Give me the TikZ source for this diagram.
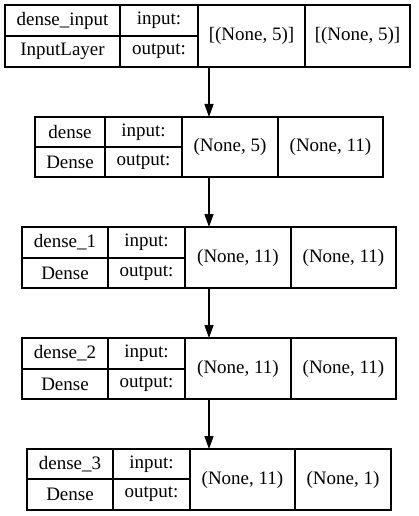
\documentclass[tikz,border=0pt]{standalone}
\usepackage{fontspec}
\setmainfont{Liberation Serif}
\usetikzlibrary{arrows.meta}
\tikzset{
  cellbox/.style={draw=black, line width=1.3pt, inner sep=0pt, outer sep=0pt, font=\fontsize{19}{22}\selectfont, text=black},
  layerbox/.style={draw=black, line width=1.3pt, inner sep=0pt, outer sep=0pt},
  arr/.style={line width=1.3pt, -{Triangle[length=13pt,width=9pt]}}
}
% \kcell{name}{x0}{y0}{x1}{y1}{text}
\newcommand\kcell[6]{%
  \node[cellbox, minimum width={(#4-#2)*1pt}, minimum height={(#5-#3)*1pt}] (#1) at ({(#2+#4)/2},{(#3+#5)/2}) {#6};}
% \kbox{name}{x0}{y0}{x1}{y1}
\newcommand\kbox[5]{%
  \node[layerbox, minimum width={(#4-#2)*1pt}, minimum height={(#5-#3)*1pt}] (#1) at ({(#2+#4)/2},{(#3+#5)/2}) {};}
\begin{document}
\begin{tikzpicture}[x=1pt,y=-1pt]
\useasboundingbox[fill=white] (0,0) rectangle (419,516);
% layer 1
\kbox{L1}{5}{5}{410}{67}
\kcell{L1n}{5}{5}{120}{36}{dense\_input}
\kcell{L1c}{5}{36}{120}{67}{InputLayer}
\kcell{L1i}{120}{5}{198}{36}{input:}
\kcell{L1o}{120}{36}{198}{67}{output:}
\kcell{L1a}{198}{5}{305}{67}{[(None, 5)]}
\kcell{L1b}{305}{5}{410}{67}{[(None, 5)]}
% layer 2
\kbox{L2}{35}{117}{383}{177}
\kcell{L2n}{35}{117}{105}{147}{dense}
\kcell{L2c}{35}{147}{105}{177}{Dense}
\kcell{L2i}{105}{117}{182}{147}{input:}
\kcell{L2o}{105}{147}{182}{177}{output:}
\kcell{L2a}{182}{117}{278}{177}{(None, 5)}
\kcell{L2b}{278}{117}{383}{177}{(None, 11)}
% layer 3
\kbox{L3}{22}{227}{396}{288}
\kcell{L3n}{22}{227}{108}{258}{dense\_1}
\kcell{L3c}{22}{258}{108}{288}{Dense}
\kcell{L3i}{108}{227}{185}{258}{input:}
\kcell{L3o}{108}{258}{185}{288}{output:}
\kcell{L3a}{185}{227}{291}{288}{(None, 11)}
\kcell{L3b}{291}{227}{396}{288}{(None, 11)}
% layer 4
\kbox{L4}{22}{338}{396}{399}
\kcell{L4n}{22}{338}{108}{369}{dense\_2}
\kcell{L4c}{22}{369}{108}{399}{Dense}
\kcell{L4i}{108}{338}{185}{369}{input:}
\kcell{L4o}{108}{369}{185}{399}{output:}
\kcell{L4a}{185}{338}{291}{399}{(None, 11)}
\kcell{L4b}{291}{338}{396}{399}{(None, 11)}
% layer 5
\kbox{L5}{27}{449}{391}{510}
\kcell{L5n}{27}{449}{113}{479}{dense\_3}
\kcell{L5c}{27}{479}{113}{510}{Dense}
\kcell{L5i}{113}{449}{190}{479}{input:}
\kcell{L5o}{113}{479}{190}{510}{output:}
\kcell{L5a}{190}{449}{295}{510}{(None, 11)}
\kcell{L5b}{295}{449}{391}{510}{(None, 1)}
% arrows
\draw[arr] (L1.south -| L2.north) -- (L2.north);
\draw[arr] (L2.south) -- (L3.north);
\draw[arr] (L3.south) -- (L4.north);
\draw[arr] (L4.south) -- (L5.north);
\end{tikzpicture}
\end{document}
